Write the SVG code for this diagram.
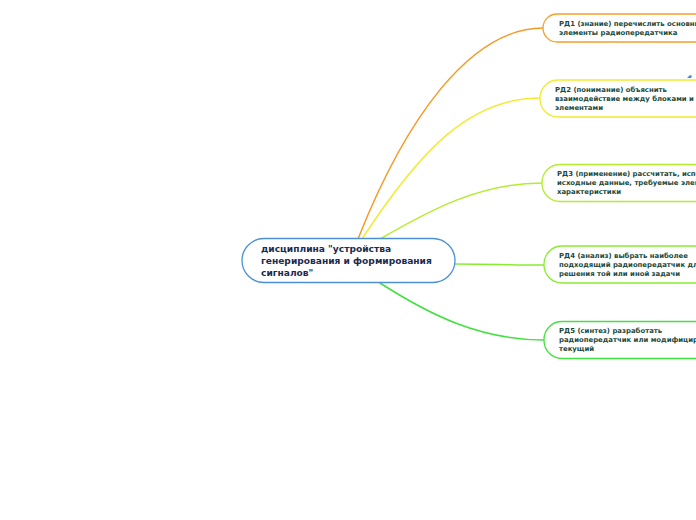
<svg xmlns="http://www.w3.org/2000/svg" width="696" height="520" viewBox="0 0 696 520">
<style>
.c{fill:none;stroke-width:1.5;stroke-linecap:round}
.n{fill:#ffffff;stroke-width:1.3}
.t{font-family:"DejaVu Sans",Verdana,sans-serif;font-weight:bold;font-size:6.9px;fill:#1b4a3c}
.m{font-family:"DejaVu Sans",Verdana,sans-serif;font-weight:bold;font-size:9.1px;fill:#1b2a4e}
</style>
<rect width="696" height="520" fill="#ffffff"/>
<g id="connectors">
<path class="c" stroke="#f39a26" d="M358,239 C405,120 470,28 543,28"/>
<path class="c" stroke="#f2ec30" d="M362,239 C420,150 470,98 540,98"/>
<path class="c" stroke="#b4ec30" d="M380,239 C430,210 480,183 542,183"/>
<path class="c" stroke="#88ec30" d="M455,264 C490,264 510,265 544,265"/>
<path class="c" stroke="#44e040" d="M380,283 C430,315 480,340 544,340"/>
</g>
<g id="central">
<rect class="n" x="242" y="238.5" width="213" height="44" rx="22" stroke="#4a90d2"/>
<text class="m" x="261" y="252">дисциплина "устройства</text>
<text class="m" x="261" y="264">генерирования и формирования</text>
<text class="m" x="261" y="276">сигналов"</text>
</g>
<g id="rd1">
<rect class="n" x="543" y="14" width="180" height="28" rx="14" stroke="#f5a02a"/>
<text class="t" x="559" y="26">РД1 (знание) перечислить основные</text>
<text class="t" x="559" y="35">элементы радиопередатчика</text>
</g>
<g id="rd2">
<rect class="n" x="540" y="80" width="180" height="37" rx="18" stroke="#f2ec30"/>
<text class="t" x="555" y="92">РД2 (понимание) объяснить</text>
<text class="t" x="555" y="101">взаимодействие между блоками и</text>
<text class="t" x="555" y="110">элементами</text>
<path d="M687,78 l3,-3 l2,1 l-1,2 z" fill="#3a8ee0"/>
</g>
<g id="rd3">
<rect class="n" x="542" y="164.5" width="180" height="37" rx="18" stroke="#b4ec30"/>
<text class="t" x="557" y="176">РД3 (применение) рассчитать, используя</text>
<text class="t" x="557" y="185">исходные данные, требуемые элементы и</text>
<text class="t" x="557" y="194">характеристики</text>
</g>
<g id="rd4">
<rect class="n" x="544" y="246" width="180" height="37" rx="18" stroke="#88ec30"/>
<text class="t" x="559" y="258">РД4 (анализ) выбрать наиболее</text>
<text class="t" x="559" y="267">подходящий радиопередатчик для</text>
<text class="t" x="559" y="276">решения той или иной задачи</text>
</g>
<g id="rd5">
<rect class="n" x="544" y="321.5" width="180" height="37" rx="18" stroke="#44e040"/>
<text class="t" x="559" y="333">РД5 (синтез) разработать</text>
<text class="t" x="559" y="342">радиопередатчик или модифицировать</text>
<text class="t" x="559" y="351">текущий</text>
</g>
</svg>
